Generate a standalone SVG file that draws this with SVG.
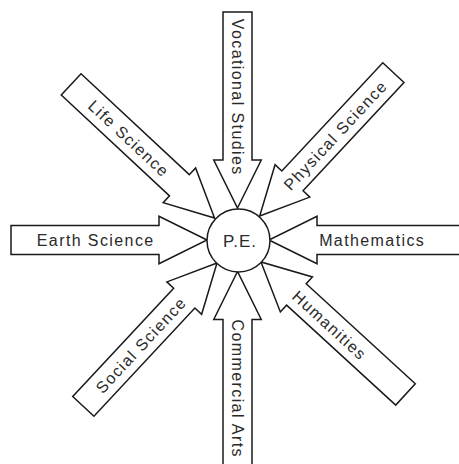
<svg xmlns="http://www.w3.org/2000/svg" width="459" height="464" viewBox="0 0 459 464">
<defs>
<style>
.arr{fill:#fff;stroke:#1a1a1a;stroke-width:1.5;stroke-linejoin:miter}
.lbl{font-family:"Liberation Sans",Arial,sans-serif;font-size:16px;letter-spacing:1.4px;fill:#2a2a2a;text-anchor:middle}
.hub{fill:#fff;stroke:#1a1a1a;stroke-width:1.5}
.hubt{font-family:"Liberation Sans",Arial,sans-serif;font-size:17px;letter-spacing:1px;fill:#2a2a2a;text-anchor:middle}
</style>
<polygon id="arrow" class="arr" points="0,0 -48,-23.75 -48,-14.5 -196,-14.5 -196,14.5 -48,14.5 -48,23.75"/>
</defs>
<rect width="459" height="464" fill="#fff"/>
<g id="connectors">
<g id="earth-science">
<use href="#arrow" transform="translate(207,240)"/>
<text class="lbl" x="95.7" y="246.3">Earth Science</text>
</g>
<g id="mathematics">
<use href="#arrow" transform="translate(269,240) rotate(180)"/>
<text class="lbl" x="372.2" y="246.3">Mathematics</text>
</g>
<g id="vocational-studies">
<use href="#arrow" transform="translate(237.5,208) rotate(90)"/>
<text class="lbl" transform="translate(237.5,96.5) rotate(90)" x="0.7" y="6">Vocational Studies</text>
</g>
<g id="commercial-arts">
<use href="#arrow" transform="translate(237.5,271.5) rotate(-90)"/>
<text class="lbl" transform="translate(237.5,388) rotate(90)" x="0.7" y="6">Commercial Arts</text>
</g>
<g id="life-science">
<use href="#arrow" transform="translate(214.5,218) rotate(43)"/>
<text class="lbl" transform="translate(128.6,137.9) rotate(43)" x="0.7" y="6">Life Science</text>
</g>
<g id="physical-science">
<use href="#arrow" transform="translate(259.7,216) rotate(133)"/>
<text class="lbl" transform="translate(334.7,135.5) rotate(-47)" x="0.7" y="6">Physical Science</text>
</g>
<g id="social-science">
<use href="#arrow" transform="translate(217,263) rotate(-47)"/>
<text class="lbl" transform="translate(140.3,345.3) rotate(-47)" x="0.7" y="6">Social Science</text>
</g>
<g id="humanities">
<use href="#arrow" transform="translate(261,262) rotate(-137.5)"/>
<text class="lbl" transform="translate(329.3,324.6) rotate(42.5)" x="0.7" y="6">Humanities</text>
</g>
</g>
<g id="pe">
<circle class="hub" cx="238.5" cy="240.5" r="31.5"/>
<text class="hubt" x="240" y="246.5">P.E.</text>
</g>
</svg>
